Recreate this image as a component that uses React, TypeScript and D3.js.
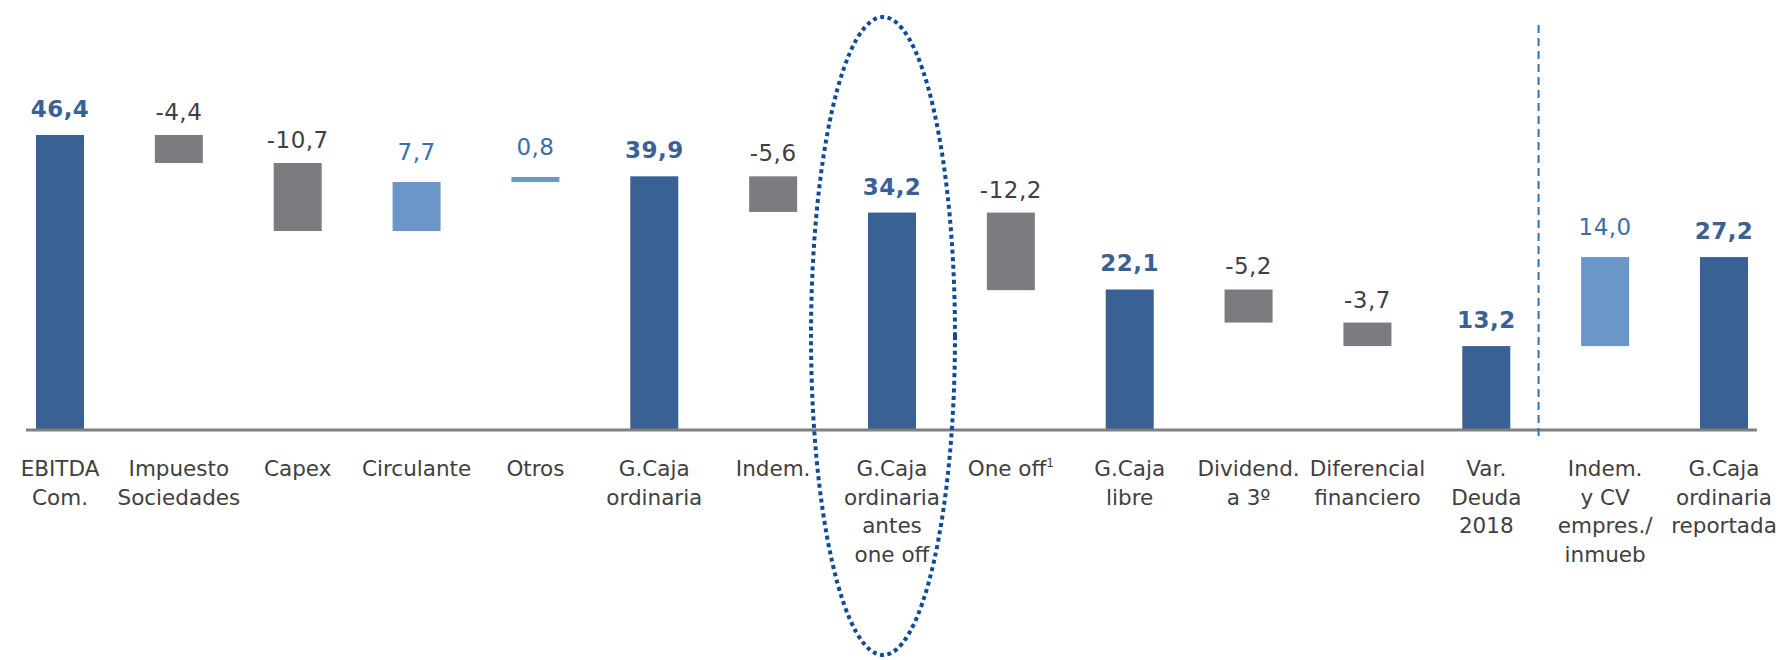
import React from "react";
import * as d3 from "d3";

const categories: string[][] = [
  ["EBITDA", "Com."],
  ["Impuesto", "Sociedades"],
  ["Capex"],
  ["Circulante"],
  ["Otros"],
  ["G.Caja", "ordinaria"],
  ["Indem."],
  ["G.Caja", "ordinaria", "antes", "one off"],
  ["One off"],
  ["G.Caja", "libre"],
  ["Dividend.", "a 3º"],
  ["Diferencial", "financiero"],
  ["Var.", "Deuda", "2018"],
  ["Indem.", "y CV", "empres./", "inmueb"],
  ["G.Caja", "ordinaria", "reportada"],
];
const values: number[] = [46.4, -4.4, -10.7, 7.7, 0.8, 39.9, -5.6, 34.2, -12.2, 22.1, -5.2, -3.7, 13.2, 14.0, 27.2];
const isTotal: boolean[] = [true, false, false, false, false, true, false, true, false, true, false, false, true, false, true];
const valueLabels: string[] = ["46,4", "-4,4", "-10,7", "7,7", "0,8", "39,9", "-5,6", "34,2", "-12,2", "22,1", "-5,2", "-3,7", "13,2", "14,0", "27,2"];
const footnoteIndex = 8;
const highlightIndex = 7;
const separatorAfter = 12;

const W = 1780;
const H = 660;
const C = {
  total: "#3A6193",
  neg: "#7C7B80",
  pos: "#6B96C8",
  textTotal: "#3A6193",
  textNeg: "#404040",
  textPos: "#3B6FAA",
  cat: "#404040",
  axis: "#808080",
  dash: "#2E75B6",
  ellipse: "#0F4C95",
};
const FONT = "'DejaVu Sans', 'Liberation Sans', Arial, sans-serif";

export default function App() {
  const x = d3
    .scalePoint<number>()
    .domain(values.map((_, i) => i))
    .range([60, 1724]);
  const step = x.step();
  const y = d3.scaleLinear().domain([0, 46.4]).range([430, 135]);
  const bw = 48;

  let run = 0;
  const bars = values.map((v, i) => {
    let y0: number, y1: number;
    if (isTotal[i]) {
      y0 = 0;
      y1 = v;
      run = v;
    } else {
      y0 = run;
      y1 = run + v;
      run = y1;
    }
    const lo = Math.min(y0, y1);
    const hi = Math.max(y0, y1);
    const color = isTotal[i] ? C.total : v < 0 ? C.neg : C.pos;
    const textColor = isTotal[i] ? C.textTotal : v < 0 ? C.textNeg : C.textPos;
    const gap = isTotal[i] ? 18 : v < 0 ? 15 : 22;
    return { i, lo, hi, color, textColor, gap };
  });

  const sepX = (x(separatorAfter) as number) + step * 0.44;
  const hx = x(highlightIndex) as number;

  return (
    <svg
      width={W}
      height={H}
      style={{ position: "absolute", left: 0, top: 0, background: "#fff" }}
      fontFamily={FONT}
    >
      {bars.map((b) => (
        <rect
          key={"b" + b.i}
          x={(x(b.i) as number) - bw / 2}
          y={y(b.hi)}
          width={bw}
          height={y(b.lo) - y(b.hi)}
          fill={b.color}
        />
      ))}
      <line x1={26} x2={1757} y1={y(0)} y2={y(0)} stroke={C.axis} strokeWidth={3} />
      <line
        x1={sepX}
        x2={sepX}
        y1={25}
        y2={437}
        stroke={C.dash}
        strokeWidth={2}
        strokeDasharray="8 5"
      />
      {bars.map((b) => (
        <text
          key={"v" + b.i}
          x={x(b.i) as number}
          y={y(b.hi) - b.gap}
          textAnchor="middle"
          fontSize={23}
          fontWeight={isTotal[b.i] ? 700 : 400}
          letterSpacing={0.5}
          fill={b.textColor}
        >
          {valueLabels[b.i]}
        </text>
      ))}
      {categories.map((lines, i) => (
        <text
          key={"c" + i}
          x={x(i) as number}
          y={476}
          textAnchor="middle"
          fontSize={21.5}
          fill={C.cat}
        >
          {lines.map((l, j) => (
            <tspan key={j} x={x(i) as number} dy={j === 0 ? 0 : 28.5}>
              {l}
              {i === footnoteIndex && j === lines.length - 1 ? (
                <tspan fontSize={12} dy={-9}>
                  1
                </tspan>
              ) : null}
            </tspan>
          ))}
        </text>
      ))}
      <ellipse
        cx={hx - 9}
        cy={336}
        rx={72}
        ry={319}
        fill="none"
        stroke={C.ellipse}
        strokeWidth={4}
        strokeDasharray="4 3.5"
      />
    </svg>
  );
}
